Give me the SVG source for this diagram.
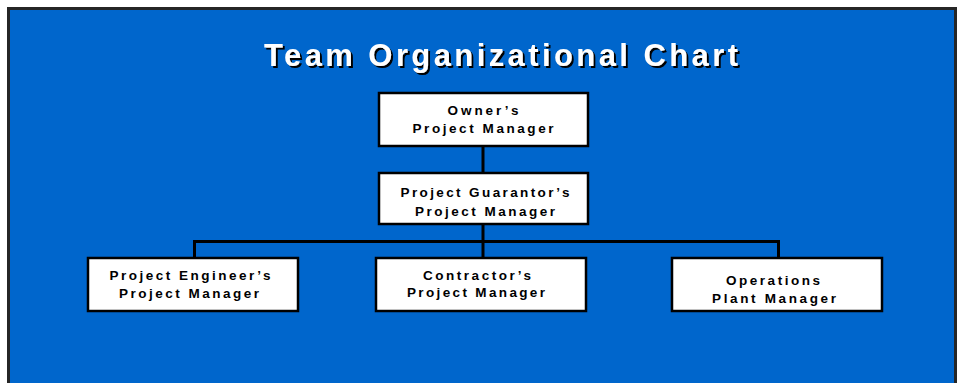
<svg xmlns="http://www.w3.org/2000/svg" width="961" height="383" viewBox="0 0 961 383">
  <defs>
    <filter id="shadow" x="-5%" y="-30%" width="110%" height="160%">
      <feDropShadow dx="2" dy="2" stdDeviation="0" flood-color="#000000" flood-opacity="1"/>
    </filter>
  </defs>
  <style>
    .box { fill: #ffffff; stroke: #000000; stroke-width: 2.5; }
    .lbl { font-family: "Liberation Sans", Arial, sans-serif; font-weight: bold; font-size: 13.5px; fill: #000000; text-anchor: middle; }
    .title { font-family: "Liberation Sans Narrow", "Liberation Sans", Arial, sans-serif; font-weight: bold; font-size: 31px; text-anchor: middle; fill: #ffffff; }
    .conn { fill: none; stroke: #000000; stroke-width: 3; }
  </style>
  <rect x="0" y="0" width="961" height="383" fill="#ffffff"/>
  <rect x="8.5" y="8.5" width="947" height="380" fill="#0066CC" stroke="#262626" stroke-width="3"/>
  <g id="title">
    <text class="title" x="501" y="66" textLength="474" lengthAdjust="spacing" filter="url(#shadow)">Team Organizational Chart</text>
  </g>
  <g id="connectors">
    <line class="conn" x1="483" y1="147" x2="483" y2="172"/>
    <line class="conn" x1="483" y1="224" x2="483" y2="258"/>
    <polyline class="conn" points="194.5,258 194.5,241.5 778.5,241.5 778.5,258"/>
  </g>
  <g id="owner">
    <rect class="box" x="379" y="93" width="209" height="53"/>
    <text class="lbl" x="483" y="115" textLength="71" lengthAdjust="spacing">Owner’s</text>
    <text class="lbl" x="483" y="133" textLength="141" lengthAdjust="spacing">Project Manager</text>
  </g>
  <g id="guarantor">
    <rect class="box" x="379" y="173" width="209" height="51"/>
    <text class="lbl" x="485" y="197" textLength="169" lengthAdjust="spacing">Project Guarantor’s</text>
    <text class="lbl" x="485" y="216" textLength="140" lengthAdjust="spacing">Project Manager</text>
  </g>
  <g id="engineer">
    <rect class="box" x="88" y="258" width="210" height="53"/>
    <text class="lbl" x="190" y="280" textLength="161" lengthAdjust="spacing">Project Engineer’s</text>
    <text class="lbl" x="189" y="298" textLength="140" lengthAdjust="spacing">Project Manager</text>
  </g>
  <g id="contractor">
    <rect class="box" x="376" y="258" width="210" height="53"/>
    <text class="lbl" x="477" y="280" textLength="108" lengthAdjust="spacing">Contractor’s</text>
    <text class="lbl" x="476" y="297" textLength="138" lengthAdjust="spacing">Project Manager</text>
  </g>
  <g id="operations">
    <rect class="box" x="672" y="258" width="210" height="53"/>
    <text class="lbl" x="773" y="285" textLength="94" lengthAdjust="spacing">Operations</text>
    <text class="lbl" x="774" y="303" textLength="124" lengthAdjust="spacing">Plant Manager</text>
  </g>
</svg>
